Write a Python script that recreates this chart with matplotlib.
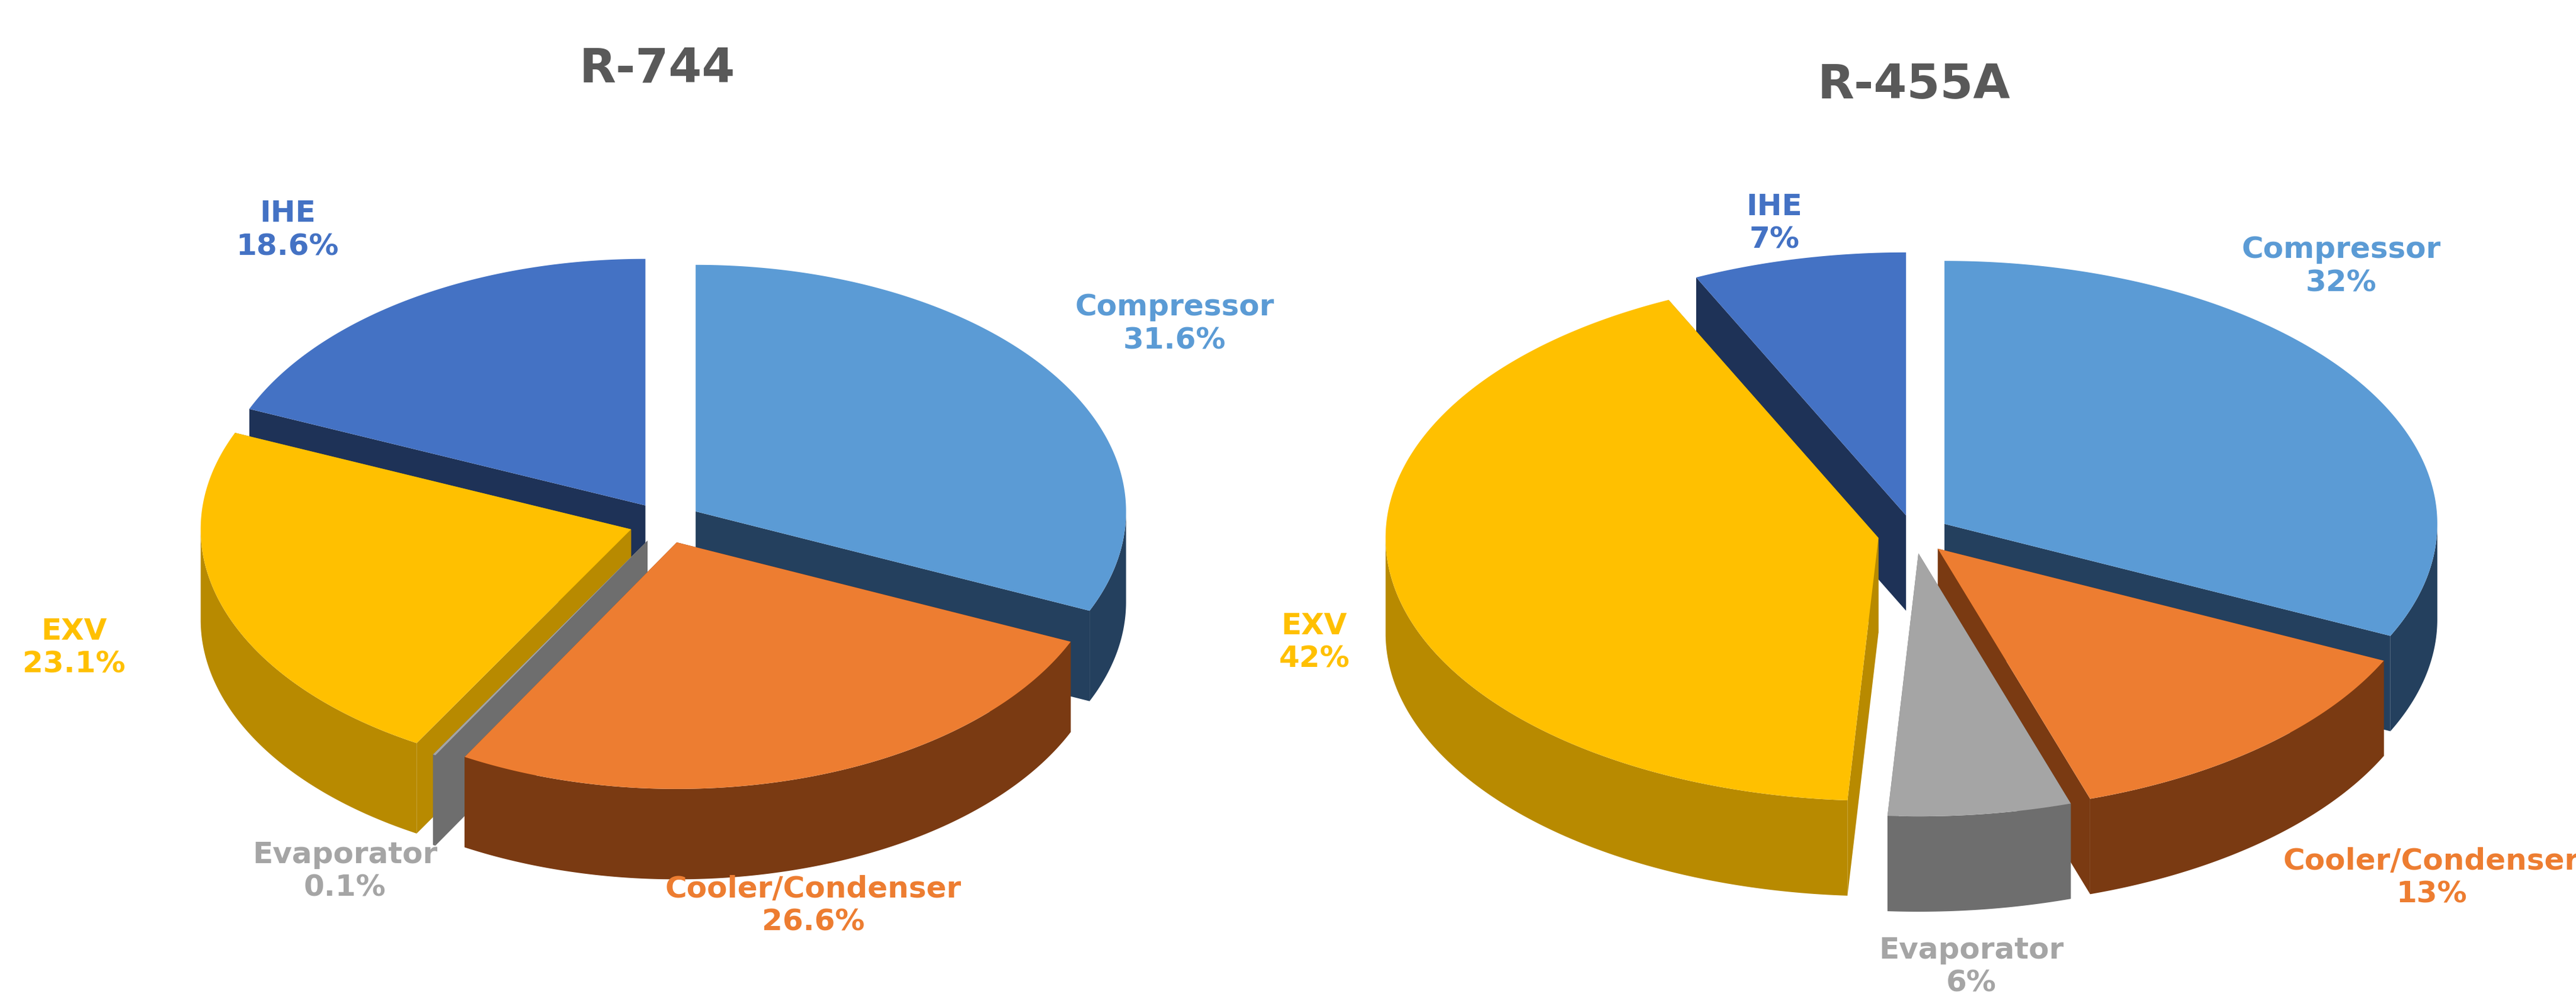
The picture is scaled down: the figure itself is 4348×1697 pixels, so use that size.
import numpy as np
import matplotlib.pyplot as plt
from matplotlib.patches import Polygon

labels = ['Compressor', 'Cooler/Condenser', 'Evaporator', 'EXV', 'IHE']
r744 = [31.6, 26.6, 0.1, 23.1, 18.6]
r455a = [32, 13, 6, 42, 7]
r744_txt = ['31.6%', '26.6%', '0.1%', '23.1%', '18.6%']
r455a_txt = ['32%', '13%', '6%', '42%', '7%']

top_col = ['#5B9BD5', '#ED7D31', '#A5A5A5', '#FFC000', '#4472C4']
side_col = ['#24405E', '#7A3A12', '#6E6E6E', '#B88A00', '#1E3257']
txt_col = ['#5B9BD5', '#ED7D31', '#A5A5A5', '#FFC000', '#4472C4']

fig = plt.figure(figsize=(43.48, 16.97), dpi=100)
ax = fig.add_axes([0, 0, 1, 1])
ax.set_xlim(0, 1568)
ax.set_ylim(612, 0)
ax.axis('off')


def pie3d(vals, cx, cy, rx, ry, depth, expl):
    fr = np.array(vals) / sum(vals)
    ends = 90 - 360 * np.cumsum(fr)
    starts = np.concatenate([[90], ends[:-1]])
    mids = np.radians((starts + ends) / 2)
    order = np.argsort(-np.sin(mids))  # back first
    for i in order:
        a0, a1 = np.radians(ends[i]), np.radians(starts[i])
        m = mids[i]
        ox, oy = expl * np.cos(m), -expl * ry / rx * np.sin(m)
        cxx, cyy = cx + ox, cy + oy
        ang = np.linspace(a0, a1, 200)
        xs = cxx + rx * np.cos(ang)
        ys = cyy - ry * np.sin(ang)
        # radial faces
        for a in (a0, a1):
            px, py = cxx + rx * np.cos(a), cyy - ry * np.sin(a)
            ax.add_patch(Polygon([(cxx, cyy), (px, py), (px, py + depth), (cxx, cyy + depth)],
                                 closed=True, fc=side_col[i], ec='none'))
        # outer front wall
        front = np.sin(ang) < 0
        if front.any():
            fx, fy = xs[front], ys[front]
            pts = list(zip(fx, fy)) + list(zip(fx[::-1], fy[::-1] + depth))
            ax.add_patch(Polygon(pts, closed=True, fc=side_col[i], ec='none'))
        ax.add_patch(Polygon([(cxx, cyy)] + list(zip(xs, ys)), closed=True,
                             fc=top_col[i], ec='none'))


pie3d(r744, 405, 318, 262, 150, 55, 22)
pie3d(r455a, 1165, 325, 300, 160, 58, 22)

ax.text(400, 42, 'R-744', ha='center', va='center', fontsize=58, fontweight='bold', color='#595959')
ax.text(1165, 52, 'R-455A', ha='center', va='center', fontsize=58, fontweight='bold', color='#595959')

pos744 = [(715, 197), (495, 551), (210, 530), (45, 394), (175, 140)]
pos455 = [(1425, 162), (1480, 534), (1200, 588), (800, 391), (1080, 136)]
for i in range(5):
    ax.text(*pos744[i], labels[i] + '\n' + r744_txt[i], ha='center', va='center',
            fontsize=36, fontweight='bold', color=txt_col[i], linespacing=1.2)
    ax.text(*pos455[i], labels[i] + '\n' + r455a_txt[i], ha='center', va='center',
            fontsize=36, fontweight='bold', color=txt_col[i], linespacing=1.2)

fig.savefig('out.png', dpi=100)
